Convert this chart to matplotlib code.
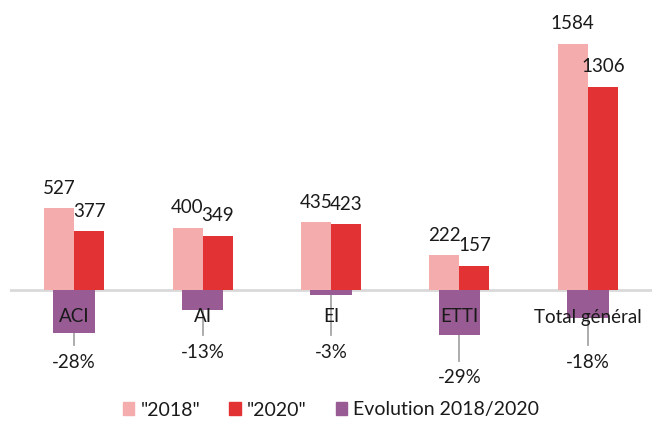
import matplotlib
matplotlib.use("Agg")
import matplotlib.pyplot as plt
import numpy as np

categories = ["ACI", "AI", "EI", "ETTI", "Total général"]
values_2018 = [527, 400, 435, 222, 1584]
values_2020 = [377, 349, 423, 157, 1306]
evolution = [-0.28, -0.13, -0.03, -0.29, -0.18]
legend_labels = ['"2018"', '"2020"', "Evolution 2018/2020"]

# label placement (evolution-axis units) for the manually moved Excel labels
evo_label_y = [-0.47, -0.405, -0.405, -0.57, -0.47]

plt.rcParams['font.family'] = ['Lato', 'DejaVu Sans']
TXT = '#1a1a1a'
C18 = '#F4ACAC'
C20 = '#E33233'
CEV = '#985B93'
FS = 13.5

fig = plt.figure(figsize=(6.52, 4.21), dpi=100)
ax = fig.add_axes([10/652, 41/421, 642/652, 380/421])
ax2 = ax.twinx()

x = np.arange(len(categories))
bw = 0.234
ax.bar(x - bw/2, values_2018, bw, color=C18, zorder=2)
ax.bar(x + bw/2, values_2020, bw, color=C20, zorder=2)
ax.axhline(0, color='#D9D9D9', lw=2, zorder=1)

px_per_unit = 82/527.0
ax.set_ylim(-90/px_per_unit, 290/px_per_unit)
ax.set_xlim(-0.5, len(categories) - 0.5)

for xi, v in zip(x - bw/2, values_2018):
    ax.annotate(str(v), (xi, v), xytext=(0, 20), textcoords='offset pixels',
                ha='center', va='center', fontsize=FS, color=TXT)
for xi, v in zip(x + bw/2, values_2020):
    ax.annotate(str(v), (xi, v), xytext=(0, 20), textcoords='offset pixels',
                ha='center', va='center', fontsize=FS, color=TXT)

ev_px = 43/0.28
ax2.set_ylim(-90/ev_px, 290/ev_px)
ax2.bar(x, evolution, 0.325, color=CEV, zorder=2)
for xi, e, ly in zip(x, evolution, evo_label_y):
    line_end = ly + 17/ev_px
    ax2.plot([xi, xi], [e, line_end], color='#A6A6A6', lw=1.3, zorder=1)
    ax2.text(xi, ly, f"{round(e*100):d}%", ha='center', va='center',
             fontsize=FS, color=TXT, zorder=5)
for xi, c in zip(x, categories):
    ax2.annotate(c, (xi, 0), xytext=(0, -27), textcoords='offset pixels',
                 ha='center', va='center', fontsize=FS, color=TXT, zorder=6)

for a in (ax, ax2):
    for s in a.spines.values():
        s.set_visible(False)
    a.set_yticks([])
    a.set_xticks([])

from matplotlib.patches import Patch
handles = [Patch(color=C18), Patch(color=C20), Patch(color=CEV)]
fig.legend(handles, legend_labels, loc='center', bbox_to_anchor=(331/652, 1 - 410/421),
           ncol=3, frameon=False, handlelength=0.6, handleheight=0.6,
           handletextpad=0.3, columnspacing=1.5, fontsize=14,
           labelcolor=TXT)

fig.savefig("out.png", dpi=100)
